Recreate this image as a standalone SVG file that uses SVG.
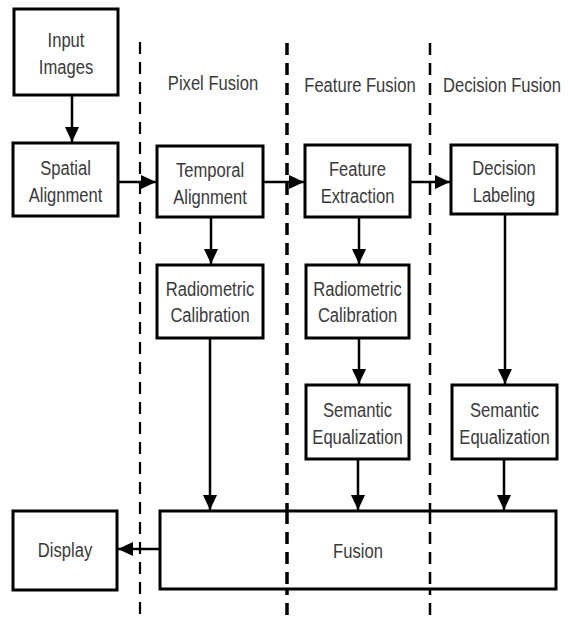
<svg xmlns="http://www.w3.org/2000/svg" width="569" height="617" viewBox="0 0 569 617">
<style>
.box{fill:#fff;stroke:#000;stroke-width:3}
.t{font-family:"Liberation Sans",Arial,sans-serif;font-size:21px;fill:#3a3a3a;text-anchor:middle}
.c{stroke:#000;stroke-width:2.5;fill:none}
.dash{stroke:#000;fill:none}
</style>
<defs>
<marker id="ah" markerUnits="userSpaceOnUse" markerWidth="16" markerHeight="14" refX="15" refY="7" orient="auto">
<path d="M0,0 L15,7 L0,14 Z" fill="#000"/>
</marker>
</defs>
<g id="dividers">
<line class="dash" x1="140" y1="42" x2="140" y2="617" stroke-width="2.2" stroke-dasharray="12 8"/>
<line class="dash" x1="287" y1="43" x2="287" y2="617" stroke-width="3.5" stroke-dasharray="12 8"/>
<line class="dash" x1="430" y1="43" x2="430" y2="617" stroke-width="2.5" stroke-dasharray="12 8"/>
</g>
<g id="labels">
<text class="t" transform="translate(213,90) scale(0.79,1)">Pixel Fusion</text>
<text class="t" transform="translate(360,92) scale(0.79,1)">Feature Fusion</text>
<text class="t" transform="translate(502,92) scale(0.79,1)">Decision Fusion</text>
</g>
<g id="input">
<rect class="box" x="14" y="9" width="104" height="86"/>
<text class="t" transform="translate(66,47) scale(0.79,1)">Input</text>
<text class="t" transform="translate(66,74) scale(0.79,1)">Images</text>
</g>
<g id="spatial">
<rect class="box" x="13" y="143" width="105" height="73"/>
<text class="t" transform="translate(65.5,175) scale(0.79,1)">Spatial</text>
<text class="t" transform="translate(65.5,202) scale(0.79,1)">Alignment</text>
</g>
<g id="temporal">
<rect class="box" x="157" y="146" width="106" height="71"/>
<text class="t" transform="translate(210,177) scale(0.79,1)">Temporal</text>
<text class="t" transform="translate(210,204) scale(0.79,1)">Alignment</text>
</g>
<g id="featureExtraction">
<rect class="box" x="305" y="145" width="105" height="72"/>
<text class="t" transform="translate(357.5,176) scale(0.79,1)">Feature</text>
<text class="t" transform="translate(357.5,203) scale(0.79,1)">Extraction</text>
</g>
<g id="decisionLabeling">
<rect class="box" x="451" y="145" width="106" height="69"/>
<text class="t" transform="translate(504,175) scale(0.79,1)">Decision</text>
<text class="t" transform="translate(504,202) scale(0.79,1)">Labeling</text>
</g>
<g id="radiometric1">
<rect class="box" x="157" y="265" width="106" height="73"/>
<text class="t" transform="translate(210,296) scale(0.79,1)">Radiometric</text>
<text class="t" transform="translate(210,322) scale(0.79,1)">Calibration</text>
</g>
<g id="radiometric2">
<rect class="box" x="306" y="265" width="103" height="73"/>
<text class="t" transform="translate(357.5,296) scale(0.79,1)">Radiometric</text>
<text class="t" transform="translate(357.5,322) scale(0.79,1)">Calibration</text>
</g>
<g id="semantic1">
<rect class="box" x="306" y="385" width="103" height="74"/>
<text class="t" transform="translate(357.5,417) scale(0.79,1)">Semantic</text>
<text class="t" transform="translate(357.5,444) scale(0.79,1)">Equalization</text>
</g>
<g id="semantic2">
<rect class="box" x="452" y="385" width="105" height="74"/>
<text class="t" transform="translate(504.5,417) scale(0.79,1)">Semantic</text>
<text class="t" transform="translate(504.5,444) scale(0.79,1)">Equalization</text>
</g>
<g id="display">
<rect class="box" x="13" y="511" width="104" height="79"/>
<text class="t" transform="translate(65,557) scale(0.79,1)">Display</text>
</g>
<g id="fusion">
<rect class="box" x="160" y="511" width="396" height="78"/>
<line class="dash" x1="287" y1="512" x2="287" y2="588" stroke-width="3.5" stroke-dasharray="12 8"/>
<line class="dash" x1="430" y1="512" x2="430" y2="588" stroke-width="2.5" stroke-dasharray="12 8"/>
<text class="t" transform="translate(358,558) scale(0.79,1)">Fusion</text>
</g>
<g id="connectors">
<line class="c" x1="72" y1="95" x2="72" y2="142" marker-end="url(#ah)"/>
<line class="c" x1="118" y1="182" x2="156" y2="182" marker-end="url(#ah)"/>
<line class="c" x1="263" y1="182" x2="304" y2="182" marker-end="url(#ah)"/>
<line class="c" x1="410" y1="182" x2="450" y2="182" marker-end="url(#ah)"/>
<line class="c" x1="211" y1="217" x2="211" y2="264" marker-end="url(#ah)"/>
<line class="c" x1="359" y1="217" x2="359" y2="264" marker-end="url(#ah)"/>
<line class="c" x1="359" y1="338" x2="359" y2="384" marker-end="url(#ah)"/>
<line class="c" x1="505" y1="214" x2="505" y2="384" stroke-width="3.5" marker-end="url(#ah)"/>
<line class="c" x1="210" y1="338" x2="210" y2="510" marker-end="url(#ah)"/>
<line class="c" x1="358" y1="459" x2="358" y2="510" marker-end="url(#ah)"/>
<line class="c" x1="504" y1="459" x2="504" y2="510" marker-end="url(#ah)"/>
<line class="c" x1="160" y1="549" x2="118" y2="549" marker-end="url(#ah)"/>
</g>
</svg>
